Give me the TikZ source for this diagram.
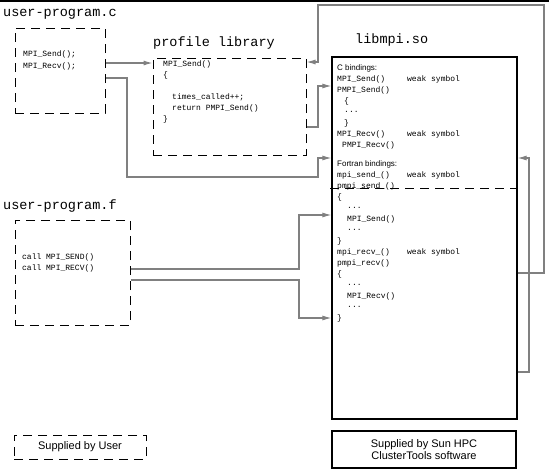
\documentclass[tikz,border=0pt]{standalone}
\usepackage{fontspec}
\setsansfont{Liberation Sans}
\setmonofont{Liberation Mono}
\usetikzlibrary{arrows.meta,calc}
\definecolor{wire}{RGB}{128,128,128}
% code line with the "weak symbol" column
\newcommand{\wksym}[1]{\makebox[70pt][l]{#1}weak symbol}

\tikzset{
  userbox/.style={draw, line width=1pt, dash pattern=on 9pt off 6pt, inner sep=0pt},
  sunbox/.style={draw, line width=1.2pt, inner sep=0pt},
  title/.style={anchor=west, inner sep=0pt, font=\fontsize{13.5}{14}\ttfamily},
  code/.style={anchor=west, inner sep=0pt, font=\fontsize{8}{9}\ttfamily},
  keytext/.style={font=\fontsize{11}{12}\sffamily, align=center},
  conn/.style={draw=wire, line width=1.1pt, -{Latex[length=9pt,width=5pt]}},
  wire/.style={draw=wire, line width=1.1pt}
}

\begin{document}
\begin{tikzpicture}[x=1pt,y=-1pt]
  % picture frame, pixel coordinates from the top left corner
  \useasboundingbox (0,0) rectangle (549,472);
  \draw[line width=1.5pt] (0,0.75) -- (549,0.75);

  % the boxes supplied by the user
  \node[title] (ctitle) at (3,14) {user-program.c};
  \node[userbox, minimum width=90pt, minimum height=85pt] (cbox) at (60,70.5) {};
  \node[code] (c1) at (23,54) {MPI\_Send();};
  \node[code] (c2) at (23,66) {MPI\_Recv();};

  \node[title] (ftitle) at (3,206) {user-program.f};
  \node[userbox, minimum width=115pt, minimum height=105pt] (fbox) at (72.5,272.5) {};
  \node[code] (f1) at (22,257) {call MPI\_SEND()};
  \node[code] (f2) at (22,268) {call MPI\_RECV()};

  % profile library
  \node[title] (ptitle) at (153,43) {profile library};
  \node[userbox, minimum width=153pt, minimum height=97pt] (profbox) at (229.5,106.5) {};
  \foreach \x/\y/\txt [count=\i] in {163/64/{MPI\_Send()}, 163/75/\{,
      172/97/{times\_called++;}, 172/108/{return PMPI\_Send()}, 163/119/\}}
    \node[code] (prof\i) at (\x,\y) {\txt};

  % libmpi.so
  \node[title] (ltitle) at (355,40) {libmpi.so};
  \node[sunbox, minimum width=185pt, minimum height=362pt] (libbox) at (424.5,238) {};
  % C bindings
  \foreach \x/\y/\txt [count=\i] in {337/68/{\sffamily C bindings:},
      337/79/{\wksym{MPI\_Send()}}, 337/90/{PMPI\_Send()},
      344/101/\{, 344/112/{...}, 344/123/\},
      337/134/{\wksym{MPI\_Recv()}}, 342/145/{PMPI\_Recv()}}
    \node[code] (cb\i) at (\x,\y) {\txt};
  % Fortran bindings
  \foreach \x/\y/\txt [count=\i] in {337/164/{\sffamily Fortran bindings:},
      337/175/{\wksym{mpi\_send\_()}}, 337/186/{pmpi\_send\_()},
      337/197/\{, 347/208/{...}, 347/219/{MPI\_Send()}, 347/230/{...},
      337/241/\}, 337/252/{\wksym{mpi\_recv\_()}}, 337/263/{pmpi\_recv()},
      337/274/\{, 347/285/{...}, 347/296/{MPI\_Recv()}, 347/307/{...},
      337/318/\}}
    \node[code] (fb\i) at (\x,\y) {\txt};
  \draw[line width=1pt, dash pattern=on 9pt off 6pt] (330,188) -- (libbox.east |- 0,188);

  % calls into the profile library and into libmpi.so
  \draw[conn] (cbox.east |- 0,63) -- (profbox.west |- 0,63);
  \draw[conn] (cbox.east |- 0,78) -| (127,177) -| (318,158) -- (libbox.west |- 0,158);
  \draw[conn] (profbox.east |- 0,127) -| (318,86) -- (libbox.west |- 0,86);
  \draw[conn] (fbox.east |- 0,269) -| (299,215) -- (libbox.west |- 0,215);
  \draw[conn] (fbox.east |- 0,280) -| (299,318) -- (libbox.west |- 0,318);

  % weak symbols lead back out of libmpi.so
  \draw[conn] (libbox.east |- 0,273) -| (544,5) -| (318,62) -- (profbox.east |- 0,62);
  \draw[conn] (libbox.east |- 0,372) -| (529,158) -- (libbox.east |- 0,158);

  % key
  \node[userbox, keytext, minimum width=132pt, minimum height=24pt] (userkey) at (80,447) {Supplied by User};
  \node[sunbox, keytext, minimum width=184pt, minimum height=37pt] (sunkey) at (424,449.5)
    {Supplied by Sun HPC\\ClusterTools software};
\end{tikzpicture}
\end{document}
